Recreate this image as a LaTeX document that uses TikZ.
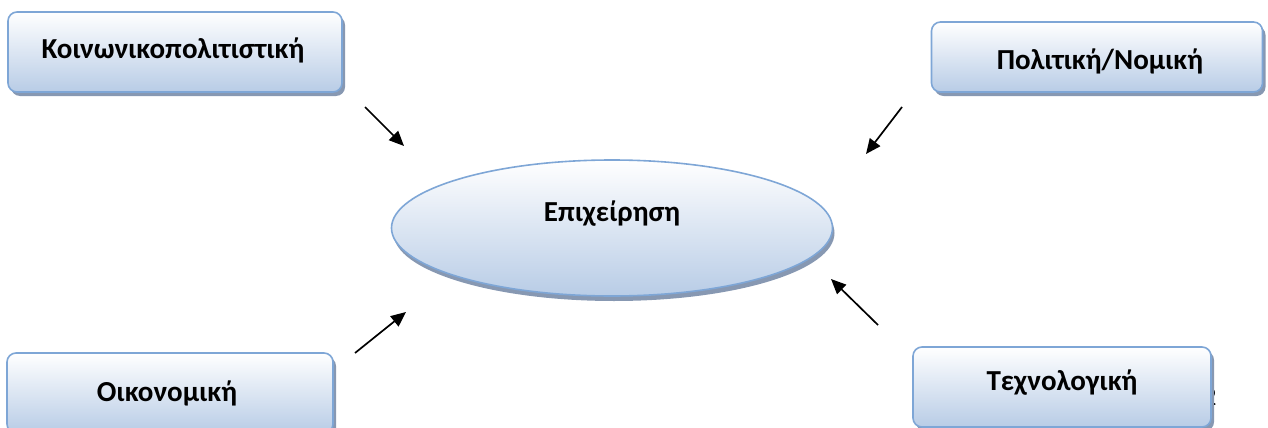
\documentclass[tikz,border=0pt]{standalone}
\usepackage{fontspec}
\setmainfont{Carlito}
\usetikzlibrary{shadows,arrows.meta,shapes.geometric}
\definecolor{boxline}{RGB}{126,166,214}
\definecolor{boxlow}{RGB}{184,204,230}
\definecolor{shadowc}{RGB}{135,152,178}
\tikzset{
  panel/.style={draw=boxline, line width=1.6pt, rounded corners=9pt,
    top color=white, bottom color=boxlow,
    drop shadow={shadow xshift=3pt, shadow yshift=-4pt, fill=shadowc, opacity=1},
    inner sep=0pt},
  label/.style={font=\fontsize{29}{34}\selectfont\bfseries},
  force/.style={line width=1.7pt, -{Triangle[length=15pt,width=13pt]}},
}
\begin{document}
\begin{tikzpicture}[x=1pt,y=-1pt]
\useasboundingbox (0,0) rectangle (1268,428);

% page number partly behind the lower right panel
\node[font=\fontsize{26}{30}\selectfont, anchor=center] (pg) at (1210,397) {2};

% four environment panels
\node[panel, minimum width=334pt, minimum height=80pt] (soc) at (175,52) {};
\node[label] at (173,50) {Κοινωνικοπολιτιστική};

\node[panel, minimum width=331pt, minimum height=70pt] (pol) at (1097,57) {};
\node[label] at (1100,61) {Πολιτική/Νομική};

\node[panel, minimum width=326pt, minimum height=80pt] (eco) at (170,393) {};
\node[label] at (167,393) {Οικονομική};

\node[panel, minimum width=298pt, minimum height=80pt] (tec) at (1062,387) {};
\node[label] at (1062,383) {Τεχνολογική};

% the firm in the centre
\node[ellipse, draw=boxline, line width=1.6pt, top color=white, bottom color=boxlow,
  drop shadow={shadow xshift=2pt, shadow yshift=-5pt, fill=shadowc, opacity=1},
  minimum width=441pt, minimum height=136pt, inner sep=0pt] (firm) at (612,228) {};
\node[label] at (612,214) {Επιχείρηση};

% influence arrows
\coordinate (s1) at (365,107);  \coordinate (e1) at (404,146);
\coordinate (s2) at (902,107);  \coordinate (e2) at (866,154);
\coordinate (s3) at (355,353);  \coordinate (e3) at (406,312);
\coordinate (s4) at (878,325);  \coordinate (e4) at (831,279);
\draw[force] (s1) -- (e1);
\draw[force] (s2) -- (e2);
\draw[force] (s3) -- (e3);
\draw[force] (s4) -- (e4);
\end{tikzpicture}
\end{document}
